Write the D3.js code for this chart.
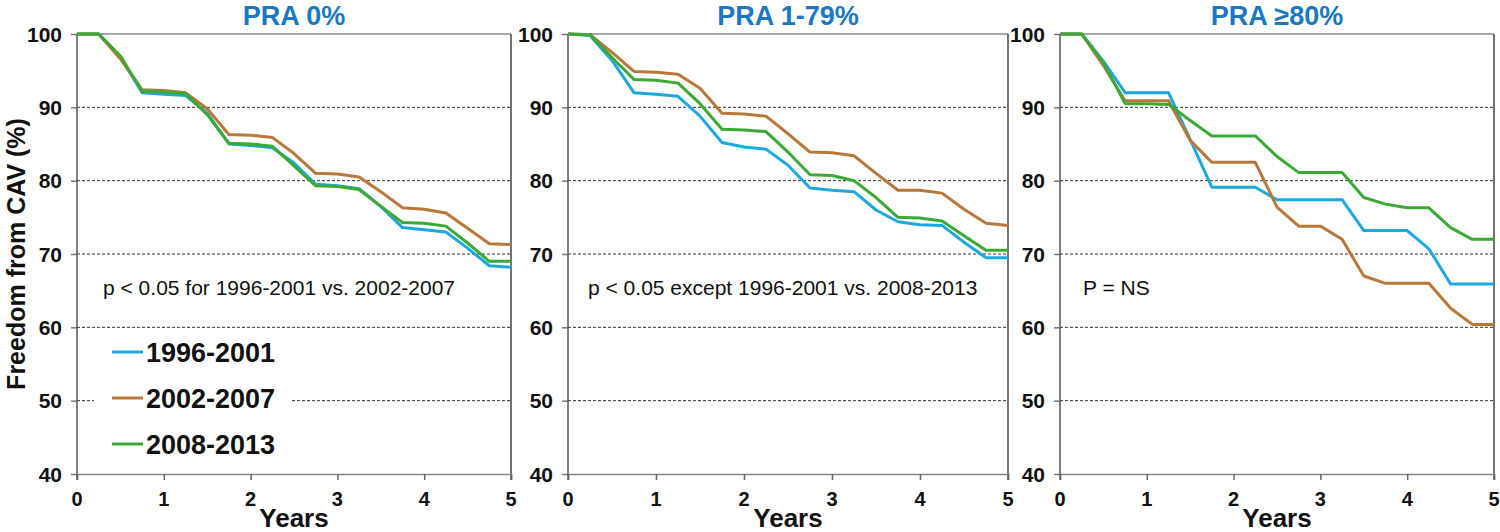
<!DOCTYPE html>
<html><head><meta charset="utf-8">
<script src="https://cdn.jsdelivr.net/npm/d3@7"></script>
<style>body{margin:0;background:#fff}svg{display:block}text{font-family:Arial,"Liberation Sans",sans-serif}</style>
</head><body><svg id="c" width="1500" height="532"></svg>
<script>
const years = [0,0.25,0.5,0.75,1,1.25,1.5,1.75,2,2.25,2.5,2.75,3,3.25,3.5,3.75,4,4.25,4.5,4.75,5];
const seriesNames = ["1996-2001","2002-2007","2008-2013"];
const seriesColors = ["#1ba8e0","#b8783a","#3aaa35"];
const panelTitles = ["PRA 0%","PRA 1-79%","PRA \u226580%"];
const panelNotes = ["p < 0.05 for 1996-2001 vs. 2002-2007","p < 0.05 except 1996-2001 vs. 2008-2013","P = NS"];
const yTicks = [40,50,60,70,80,90,100];
const xTicks = [0,1,2,3,4,5];
// PRA 0%
const p1_1996 = [100,100,96.9,92.0,91.8,91.6,89.2,85.0,84.8,84.5,82.4,79.5,79.3,78.9,76.5,73.6,73.3,73.0,70.8,68.4,68.2];
const p1_2002 = [100,100,96.6,92.4,92.3,92.0,89.8,86.3,86.2,85.9,83.7,81.0,80.9,80.5,78.5,76.3,76.1,75.6,73.5,71.4,71.3];
const p1_2008 = [100,100,97.0,92.2,92.1,91.9,89.0,85.1,85.0,84.7,82.0,79.3,79.2,78.8,76.5,74.3,74.2,73.8,71.5,69.0,69.0];
// PRA 1-79%
const p2_1996 = [100,99.8,96.4,92.0,91.8,91.5,88.8,85.2,84.6,84.3,82.1,79.0,78.7,78.5,76.0,74.4,74.0,73.9,71.6,69.5,69.5];
const p2_2002 = [100,99.9,97.5,94.9,94.8,94.5,92.6,89.2,89.1,88.8,86.4,83.9,83.8,83.4,81.0,78.7,78.7,78.3,76.1,74.2,73.9];
const p2_2008 = [100,99.9,96.8,93.8,93.7,93.3,90.5,87.0,86.9,86.7,83.9,80.8,80.7,80.0,77.7,75.0,74.9,74.5,72.5,70.5,70.5];
// PRA >=80%
const p3_1996 = [100,100,96.3,92.0,92.0,92.0,85.6,79.1,79.1,79.1,77.4,77.4,77.4,77.4,73.2,73.2,73.2,70.7,65.9,65.9,65.9];
const p3_2002 = [100,100,95.7,90.9,90.9,90.9,85.5,82.5,82.5,82.5,76.4,73.8,73.8,72.0,67.0,66.0,66.0,66.0,62.6,60.4,60.4];
const p3_2008 = [100,100,96.1,90.5,90.5,90.4,88.2,86.1,86.1,86.1,83.3,81.1,81.1,81.1,77.7,76.8,76.3,76.3,73.6,72.0,72.0];

const panelData = [[p1_1996,p1_2002,p1_2008],[p2_1996,p2_2002,p2_2008],[p3_1996,p3_2002,p3_2008]];
const panelX = [[77,511],[568,1008],[1060,1494]];
const noteX = [103,588,1083];
const plotTop = 34, plotBottom = 474;

const svg = d3.select("#c");
const y = d3.scaleLinear().domain([40,100]).range([plotBottom, plotTop]);

panelData.forEach((series, pi) => {
  const [x0, x1] = panelX[pi];
  const x = d3.scaleLinear().domain([0,5]).range([x0, x1]);
  const g = svg.append("g");

  g.selectAll("line.grid").data([50,60,70,80,90]).join("line")
    .attr("x1", x0).attr("x2", x1).attr("y1", d => y(d)).attr("y2", d => y(d))
    .attr("stroke", "#333").attr("stroke-width", 1).attr("stroke-dasharray", "3,2");

  g.append("line").attr("x1", x0).attr("x2", x1).attr("y1", y(100)).attr("y2", y(100))
    .attr("stroke", "#8a8a8a").attr("stroke-width", 1.5);
  g.append("line").attr("x1", x1).attr("x2", x1).attr("y1", y(100)).attr("y2", plotBottom + 6)
    .attr("stroke", "#444").attr("stroke-width", 1.5);

  const ya = d3.axisLeft(y).tickValues(yTicks).tickSize(6).tickFormat("");
  const yg = g.append("g").attr("transform", `translate(${x0},0)`).call(ya);
  yg.select(".domain").remove();
  yg.selectAll(".tick line").attr("stroke", "#777").attr("stroke-width", 1.5);
  g.append("line").attr("x1", x0).attr("x2", x0).attr("y1", y(100)).attr("y2", plotBottom + 6)
    .attr("stroke", "#555").attr("stroke-width", 1.5);
  g.selectAll("text.yl").data(yTicks).join("text")
    .attr("x", x0 - 15).attr("y", d => y(d) + 7.5).attr("text-anchor", "end")
    .attr("font-size", 21).attr("font-weight", "bold").attr("fill", "#111").text(d => d);

  const xa = d3.axisBottom(x).tickValues(xTicks).tickSize(6).tickFormat("");
  const xg = g.append("g").attr("transform", `translate(0,${plotBottom})`).call(xa);
  xg.select(".domain").attr("stroke", "#888").attr("stroke-width", 1.5);
  xg.selectAll(".tick line").attr("stroke", "#666").attr("stroke-width", 1.5);
  g.selectAll("text.xl").data(xTicks).join("text")
    .attr("x", d => x(d)).attr("y", 506).attr("text-anchor", "middle")
    .attr("font-size", 20).attr("font-weight", "bold").attr("fill", "#111").text(d => d);

  g.append("text").attr("x", (x0 + x1) / 2).attr("y", 527).attr("text-anchor", "middle")
    .attr("font-size", 26).attr("font-weight", "bold").attr("fill", "#111").text("Years");

  g.append("text").attr("x", (x0 + x1) / 2).attr("y", 25).attr("text-anchor", "middle")
    .attr("font-size", 27).attr("font-weight", "bold").attr("fill", "#1a78c2").text(panelTitles[pi]);

  g.append("text").attr("x", noteX[pi]).attr("y", 295)
    .attr("font-size", 21).attr("fill", "#111").text(panelNotes[pi]);

  const line = d3.line().x((d, i) => x(years[i])).y(d => y(d));
  series.forEach((vals, si) => {
    g.append("path").datum(vals).attr("d", line).attr("fill", "none")
      .attr("stroke", seriesColors[si]).attr("stroke-width", 3).attr("stroke-linejoin", "round");
  });
});

const lg = svg.append("g");
lg.append("rect").attr("x", 94).attr("y", 335).attr("width", 196).attr("height", 130).attr("fill", "#fff");
seriesNames.forEach((n, i) => {
  const ly = 352 + i * 46;
  lg.append("line").attr("x1", 112).attr("x2", 143).attr("y1", ly).attr("y2", ly)
    .attr("stroke", seriesColors[i]).attr("stroke-width", 3);
  lg.append("text").attr("x", 146).attr("y", ly + 10).attr("font-size", 27).attr("font-weight", "bold")
    .attr("fill", "#111").text(n);
});

svg.append("text").attr("transform", "translate(25,254) rotate(-90)").attr("text-anchor", "middle")
  .attr("font-size", 25).attr("font-weight", "bold").attr("fill", "#111").text("Freedom from CAV (%)");
</script></body></html>
